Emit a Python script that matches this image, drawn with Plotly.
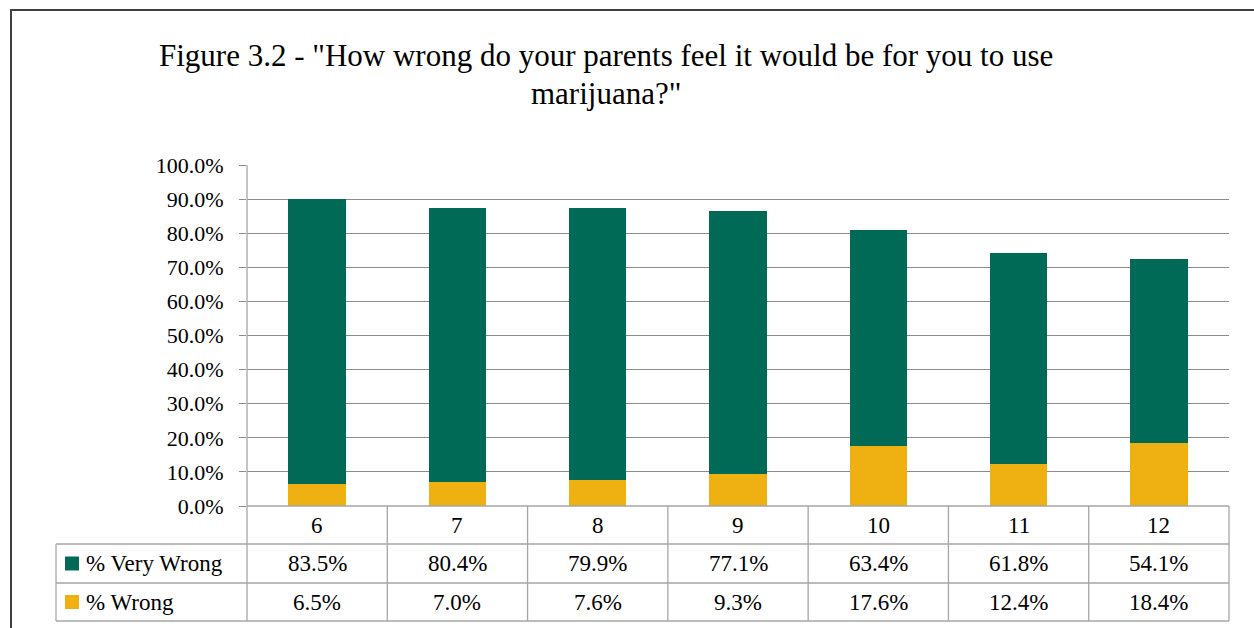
import plotly.graph_objects as go

grades = ["6", "7", "8", "9", "10", "11", "12"]
very_wrong = [83.5, 80.4, 79.9, 77.1, 63.4, 61.8, 54.1]
wrong = [6.5, 7.0, 7.6, 9.3, 17.6, 12.4, 18.4]
series_names = ["% Very Wrong", "% Wrong"]
title_lines = ['Figure 3.2 - "How wrong do your parents feel it would be for you to use', 'marijuana?"']
y_ticks = [i / 10 for i in range(11)]

GREEN = "#006A57"
YELLOW = "#EEB111"
GRID = "#8C8C8C"
TABLE = "#A6A6A6"
FONT = "Liberation Serif"

W, H = 1254, 628
def px(x):
    return x / W
def py(y):
    return 1 - y / H

x_left, x_right = 247, 1229
y_top, y_zero = 165, 506
row_lines = [506, 544, 583, 621]
legend_left = 56

fig = go.Figure()
fig.add_trace(go.Bar(x=grades, y=[v / 100 for v in wrong], name=series_names[1],
                     marker=dict(color=YELLOW, line=dict(width=0)), width=0.41))
fig.add_trace(go.Bar(x=grades, y=[v / 100 for v in very_wrong], name=series_names[0],
                     marker=dict(color=GREEN, line=dict(width=0)), width=0.41))

shapes = []
annotations = []
# outer frame
shapes.append(dict(type="rect", xref="paper", yref="paper", x0=px(11), x1=px(1260), y0=py(640), y1=py(10),
                   line=dict(color="#404040", width=2), fillcolor="rgba(0,0,0,0)"))
# y axis line extended through table
shapes.append(dict(type="line", xref="paper", yref="paper", x0=px(x_left), x1=px(x_left),
                   y0=py(y_top), y1=py(row_lines[-1]), line=dict(color=TABLE, width=1.3)))
# horizontal table lines
for i, yl in enumerate(row_lines):
    x0 = x_left if i == 0 else legend_left
    shapes.append(dict(type="line", xref="paper", yref="paper", x0=px(x0), x1=px(x_right),
                       y0=py(yl), y1=py(yl), line=dict(color=TABLE, width=1.3)))
# legend column left edge
shapes.append(dict(type="line", xref="paper", yref="paper", x0=px(legend_left), x1=px(legend_left),
                   y0=py(row_lines[1]), y1=py(row_lines[-1]), line=dict(color=TABLE, width=1.3)))
n = len(grades)
colw = (x_right - x_left) / n
for i in range(1, n + 1):
    xb = x_left + colw * i
    shapes.append(dict(type="line", xref="paper", yref="paper", x0=px(xb), x1=px(xb),
                       y0=py(row_lines[0]), y1=py(row_lines[-1]), line=dict(color=TABLE, width=1.3)))

# table text
TS = 23
row_centers = [(row_lines[k] + row_lines[k + 1]) / 2 for k in range(3)]
for i, g in enumerate(grades):
    cx = x_left + colw * (i + 0.5)
    annotations.append(dict(x=px(cx), y=py(row_centers[0]), xref="paper", yref="paper", text=g,
                            showarrow=False, xanchor="center", yanchor="middle", font=dict(size=TS)))
    annotations.append(dict(x=px(cx), y=py(row_centers[1]), xref="paper", yref="paper",
                            text=f"{very_wrong[i]:.1f}%", showarrow=False, xanchor="center",
                            yanchor="middle", font=dict(size=TS)))
    annotations.append(dict(x=px(cx), y=py(row_centers[2]), xref="paper", yref="paper",
                            text=f"{wrong[i]:.1f}%", showarrow=False, xanchor="center",
                            yanchor="middle", font=dict(size=TS)))
# legend keys in table
for k, (name, col) in enumerate([(series_names[0], GREEN), (series_names[1], YELLOW)]):
    cy = row_centers[k + 1]
    shapes.append(dict(type="rect", xref="paper", yref="paper", x0=px(65), x1=px(79),
                       y0=py(cy + 7), y1=py(cy - 7), line=dict(width=0), fillcolor=col))
    annotations.append(dict(x=px(84), y=py(cy), xref="paper", yref="paper", text=name,
                            showarrow=False, xanchor="left", yanchor="middle", font=dict(size=TS)))

# title
annotations.append(dict(x=px(606), y=py(56), xref="paper", yref="paper", text=title_lines[0],
                        showarrow=False, xanchor="center", yanchor="middle", font=dict(size=31)))
annotations.append(dict(x=px(606), y=py(93), xref="paper", yref="paper", text=title_lines[1],
                        showarrow=False, xanchor="center", yanchor="middle", font=dict(size=31)))

fig.update_layout(
    width=W, height=H, autosize=False,
    margin=dict(l=0, r=0, t=0, b=0, pad=0, autoexpand=False),
    paper_bgcolor="white", plot_bgcolor="white",
    barmode="stack", showlegend=False,
    font=dict(family=FONT, color="black", size=20),
    xaxis=dict(domain=[px(x_left), px(x_right)], range=[-0.5, n - 0.5], showticklabels=False,
               showgrid=False, zeroline=False, showline=False, ticks="", automargin=False),
    yaxis=dict(domain=[py(y_zero), py(y_top)], range=[0, 1], tickvals=y_ticks,
               ticktext=[f"{v * 100:.1f}%" for v in y_ticks], showgrid=True, gridcolor=GRID,
               gridwidth=1.3, zeroline=False, showline=False, ticks="outside", ticklen=7,
               tickcolor=GRID, tickwidth=1.3, tickfont=dict(size=22), ticklabelstandoff=11,
               automargin=False),
    shapes=shapes, annotations=annotations,
)

fig.write_html("out.html", config={"responsive": False, "displayModeBar": False},
               post_script="document.body.style.margin='0';document.body.style.overflow='hidden';")
